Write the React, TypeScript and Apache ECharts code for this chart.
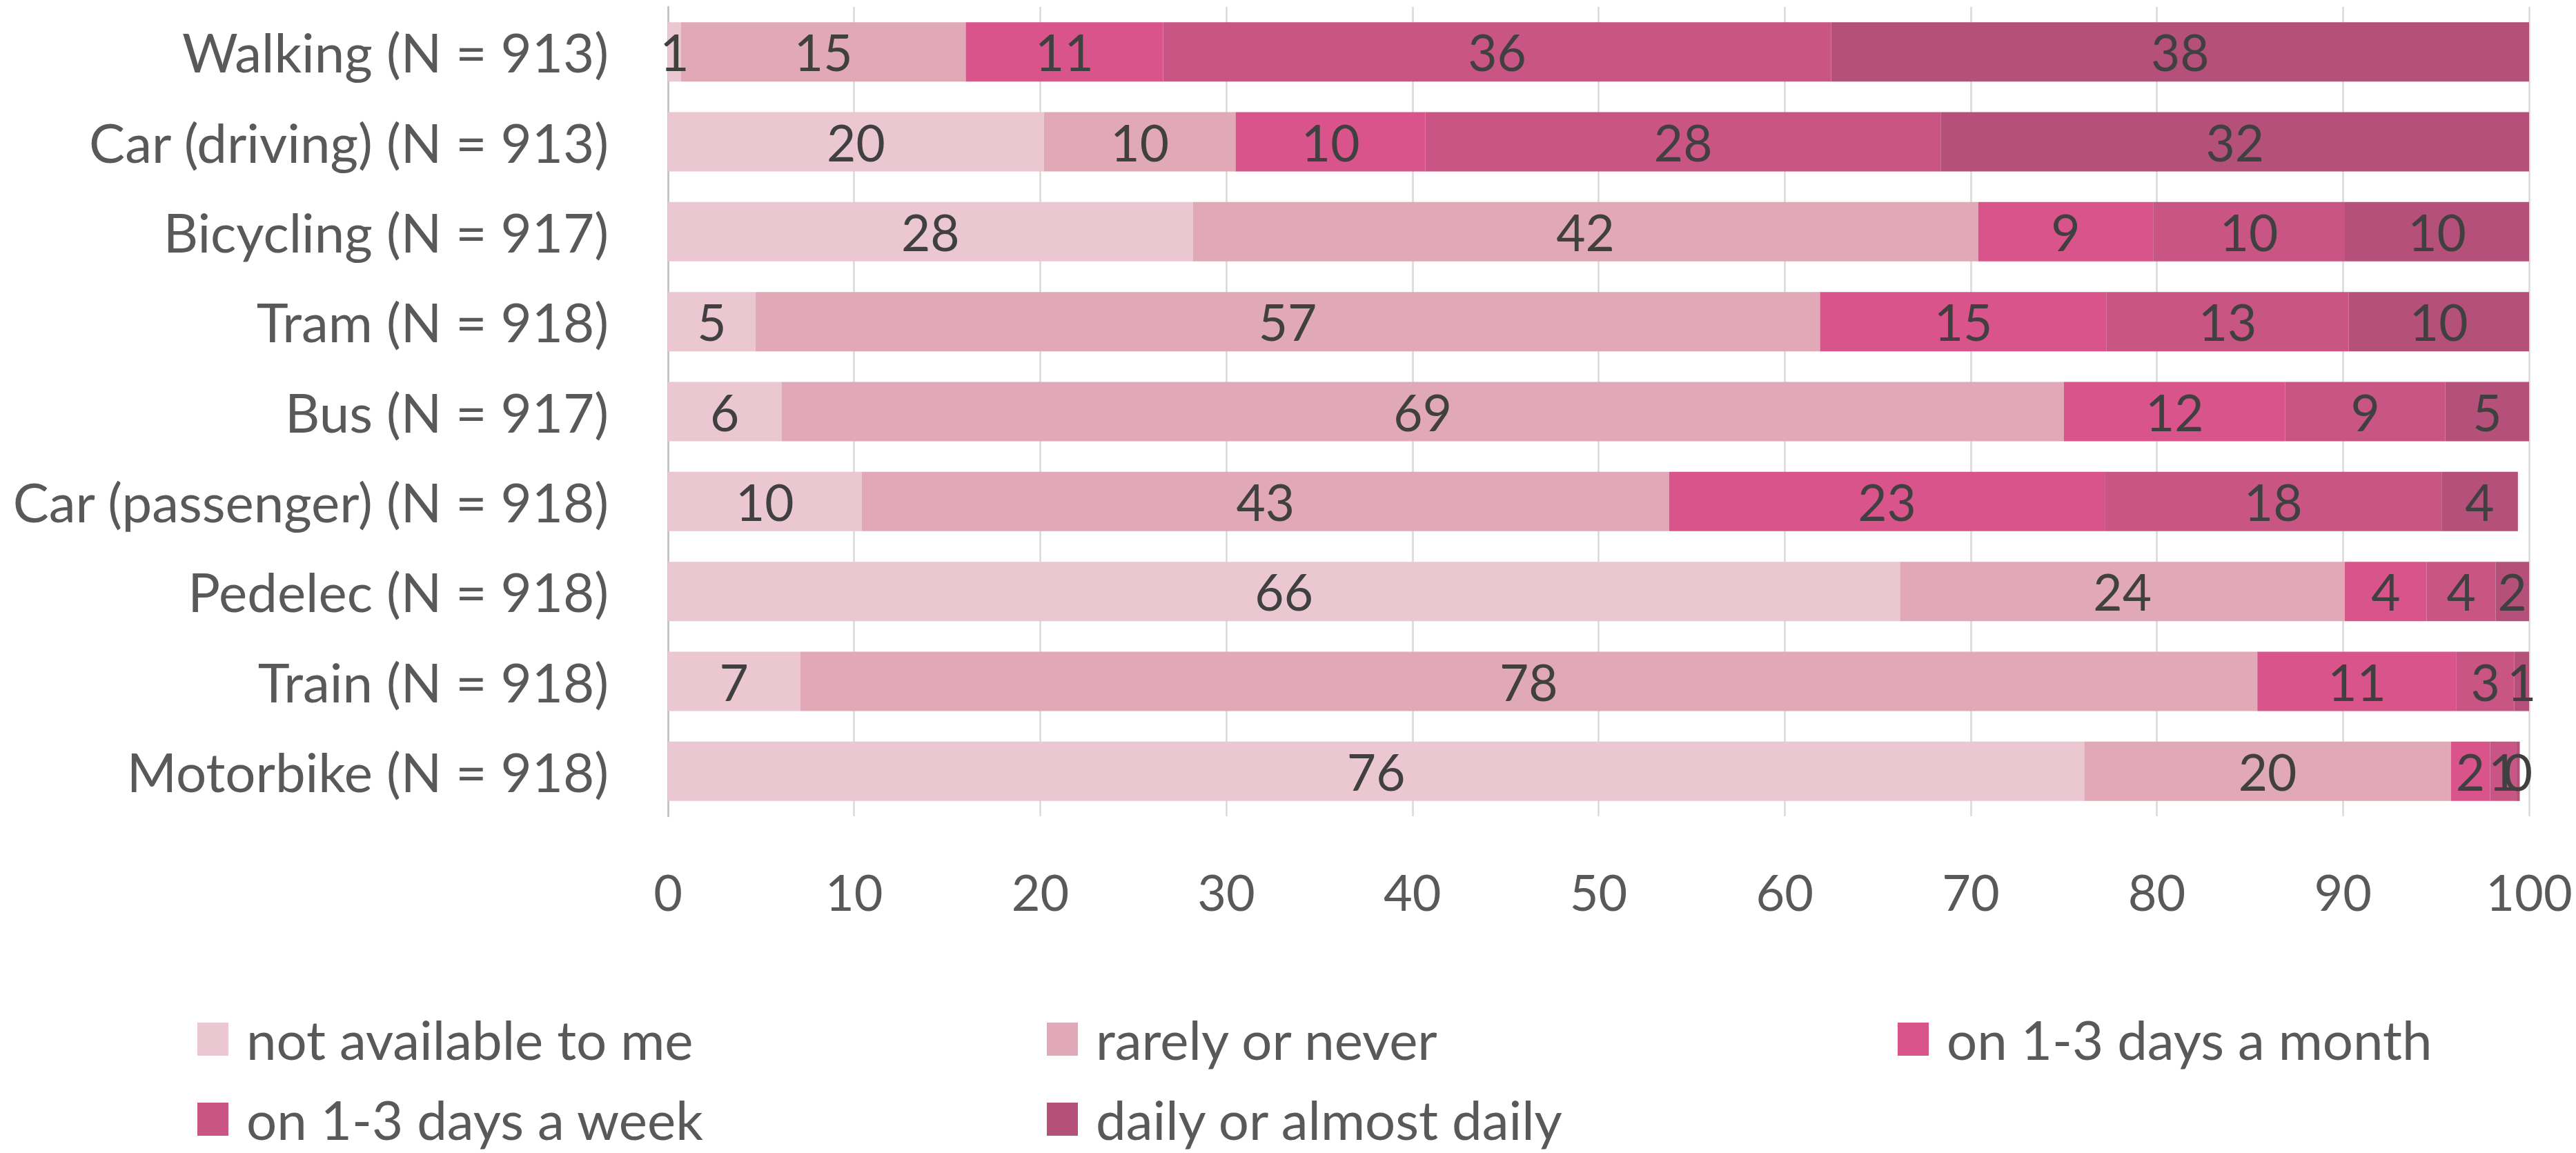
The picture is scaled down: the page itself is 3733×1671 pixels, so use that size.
import React, { useEffect, useRef } from "react";
import * as echarts from "echarts";

const categories = [
  "Walking (N = 913)",
  "Car (driving) (N = 913)",
  "Bicycling (N = 917)",
  "Tram (N = 918)",
  "Bus (N = 917)",
  "Car (passenger) (N = 918)",
  "Pedelec (N = 918)",
  "Train (N = 918)",
  "Motorbike (N = 918)",
];

const seriesNames = [
  "not available to me",
  "rarely or never",
  "on 1-3 days a month",
  "on 1-3 days a week",
  "daily or almost daily",
];

const notAvailable = [0.7, 20.2, 28.2, 4.7, 6.1, 10.4, 66.2, 7.1, 76.1];
const rarelyNever = [15.3, 10.3, 42.2, 57.2, 68.9, 43.4, 23.9, 78.3, 19.7];
const daysMonth = [10.6, 10.2, 9.4, 15.4, 11.9, 23.4, 4.4, 10.7, 2.1];
const daysWeek = [35.9, 27.7, 10.3, 13.0, 8.6, 18.1, 3.7, 3.1, 1.4];
const daily = [37.5, 31.6, 9.9, 9.7, 4.5, 4.1, 1.8, 0.8, 0.2];

const xTicks = [0, 10, 20, 30, 40, 50, 60, 70, 80, 90, 100];

const colors = ["#EBC8D1", "#E1A8B7", "#D9548B", "#C95585", "#B5507A"];

const FONT = "Lato";

export default function App() {
  const ref = useRef<HTMLDivElement>(null);

  useEffect(() => {
    if (!ref.current) return;
    const chart = echarts.init(ref.current, null, { renderer: "svg" });
    const allData = [notAvailable, rarelyNever, daysMonth, daysWeek, daily];

    const legendPos = [
      { left: 281, top: 1462 },
      { left: 1512, top: 1462 },
      { left: 2745, top: 1462 },
      { left: 281, top: 1578 },
      { left: 1512, top: 1578 },
    ];

    chart.setOption({
      animation: false,
      backgroundColor: "#ffffff",
      grid: { left: 968, right: 68, top: 10, bottom: 488, containLabel: false },
      xAxis: {
        type: "value",
        min: 0,
        max: 100,
        interval: 10,
        axisLine: { show: false },
        axisTick: { show: false },
        splitLine: { show: true, lineStyle: { color: "#D9D9D9", width: 2.5 } },
        axisLabel: {
          margin: 73,
          color: "#595959",
          fontFamily: FONT,
          fontSize: 72,
          formatter: (v: number) => (xTicks.includes(v) ? String(v) : ""),
        },
      },
      yAxis: {
        type: "category",
        inverse: true,
        data: categories,
        axisLine: { show: true, lineStyle: { color: "#BFBFBF", width: 2.5 } },
        axisTick: { show: false },
        axisLabel: {
          margin: 86,
          color: "#595959",
          fontFamily: FONT,
          fontSize: 78,
        },
      },
      legend: seriesNames.map((name, i) => ({
        data: [name],
        left: legendPos[i].left,
        top: legendPos[i].top,
        icon: "rect",
        itemWidth: 45,
        itemHeight: 48,
        selectedMode: false,
        textStyle: {
          color: "#595959",
          fontFamily: FONT,
          fontSize: 78,
          padding: [0, 0, 0, 21],
        },
      })),
      series: seriesNames.map((name, i) => ({
        name,
        type: "bar",
        stack: "total",
        data: allData[i],
        barWidth: 86,
        itemStyle: { color: colors[i] },
        label: {
          show: true,
          position: "inside",
          color: "#404040",
          fontFamily: FONT,
          fontSize: 73,
          formatter: (p: any) => String(Math.round(p.value)),
        },
      })),
    });

    return () => chart.dispose();
  }, []);

  return (
    <div
      ref={ref}
      style={{ position: "fixed", left: 0, top: 0, width: 3733, height: 1671 }}
    />
  );
}
